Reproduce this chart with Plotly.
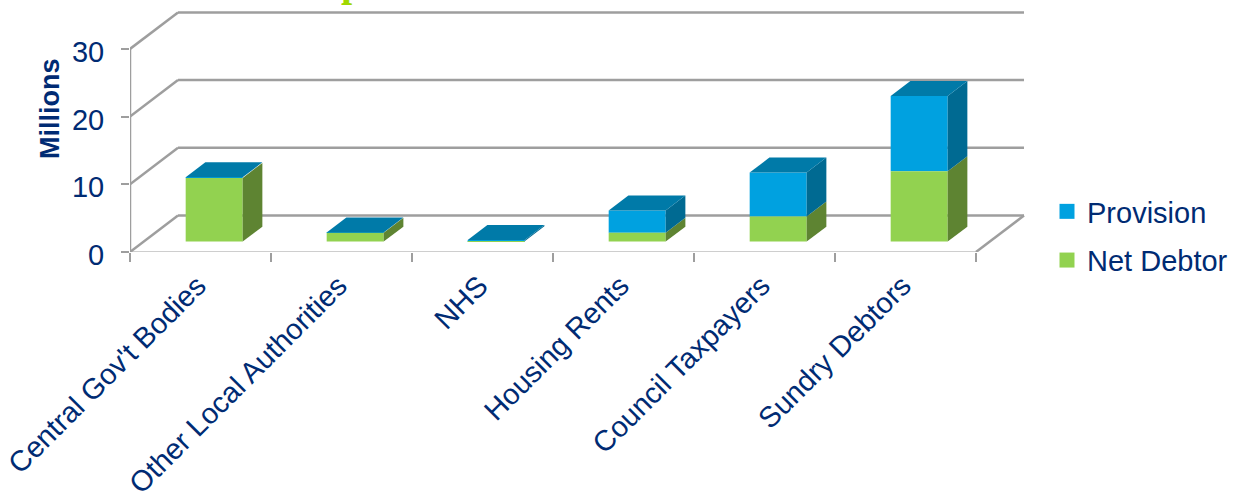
import plotly.graph_objects as go

categories = ["Central Gov't Bodies", "Other Local Authorities", "NHS",
              "Housing Rents", "Council Taxpayers", "Sundry Debtors"]
net_debtor = [9.4, 1.3, 0.05, 1.3, 3.7, 10.4]
provision = [0.1, 0.05, 0.2, 3.3, 6.5, 11.1]
y_ticks = [0, 10, 20, 30]

W, H = 1235, 492
LEFT, RIGHT_EDGE, TOP, ZERO = 130, 1030, 4, 252
UNIT_X = 141.0          # pixels per category
UNIT_Y = 6.77           # pixels per million
DX = 48 / UNIT_X        # oblique depth vector, in data units
DY = 36.5 / UNIT_Y
BAR_W = 57 / UNIT_X
D_FRONT, D_BACK = 0.285, 0.695

GREEN, GREEN_SIDE = "#92D250", "#5E8432"
BLUE, BLUE_SIDE, BLUE_TOP = "#00A1E0", "#006A92", "#007AA8"
GRID = "#9E9E9E"
NAVY = "#002B73"


def proj(x, v, d):
    """Oblique projection of (category position, value, depth) onto the axes."""
    return x + d * DX, v + d * DY


def face(corners, color):
    pts = [proj(*c) for c in corners]
    pts.append(pts[0])
    return go.Scatter(x=[p[0] for p in pts], y=[p[1] for p in pts], mode="lines",
                      fill="toself", fillcolor=color, line=dict(width=0),
                      hoverinfo="skip", showlegend=False, cliponaxis=False)


def wall_line(a, b):
    (x0, y0), (x1, y1) = proj(*a), proj(*b)
    return dict(type="line", xref="x", yref="y", x0=x0, y0=y0, x1=x1, y1=y1,
                layer="below", line=dict(color=GRID, width=2.5))


x_first, x_last = -0.5, len(categories) - 0.5
shapes = []
for t in y_ticks:
    shapes.append(wall_line((x_first, t, 1), (x_last, t, 1)))
    shapes.append(wall_line((x_first, t, 0), (x_first, t, 1)))
shapes.append(wall_line((x_last, 0, 0), (x_last, 0, 1)))

fig = go.Figure()

# Front faces of the stacked columns
base_y = D_FRONT * DY
centres = [i + D_FRONT * DX for i in range(len(categories))]
fig.add_bar(x=centres, y=provision, base=[n + base_y for n in net_debtor],
            width=BAR_W, marker=dict(color=BLUE, line=dict(width=0)),
            name="Provision", legendgroup="p", showlegend=False)
fig.add_bar(x=centres, y=net_debtor, base=base_y,
            width=BAR_W, marker=dict(color=GREEN, line=dict(width=0)),
            name="Net Debtor", legendgroup="n", showlegend=False)

# Side and top faces
for i, (n, p) in enumerate(zip(net_debtor, provision)):
    xr = i + BAR_W / 2
    xl = i - BAR_W / 2
    fig.add_trace(face([(xr, 0, D_FRONT), (xr, 0, D_BACK), (xr, n, D_BACK), (xr, n, D_FRONT)], GREEN_SIDE))
    fig.add_trace(face([(xr, n, D_FRONT), (xr, n, D_BACK), (xr, n + p, D_BACK), (xr, n + p, D_FRONT)], BLUE_SIDE))
    t = n + p
    fig.add_trace(face([(xl, t, D_FRONT), (xr, t, D_FRONT), (xr, t, D_BACK), (xl, t, D_BACK)], BLUE_TOP))

# Front edges of the chart box
fig.add_trace(go.Scatter(x=[x_first, x_first], y=[y_ticks[0], y_ticks[-1]], mode="lines",
                         line=dict(color=GRID, width=2.5), cliponaxis=False,
                         hoverinfo="skip", showlegend=False))
fig.add_trace(go.Scatter(x=[x_first, x_last], y=[-0.15, -0.15], mode="lines",
                         line=dict(color=GRID, width=3), cliponaxis=False,
                         hoverinfo="skip", showlegend=False))

# Legend entries with larger square keys
for name, color, group in (("Provision", BLUE, "p"), ("Net Debtor", GREEN, "n")):
    fig.add_trace(go.Scatter(x=[None], y=[None], mode="markers", name=name, legendgroup=group,
                             marker=dict(symbol="square", size=15, color=color)))

PLOT_W = W - LEFT
PLOT_H = ZERO - TOP
fig.update_layout(
    width=W, height=H, autosize=False,
    margin=dict(l=LEFT, r=0, t=TOP, b=H - ZERO, pad=0),
    paper_bgcolor="white", plot_bgcolor="white",
    barmode="overlay", shapes=shapes,
    font=dict(family="Liberation Sans, Arial, sans-serif", color=NAVY, size=29),
    xaxis=dict(domain=[0, (RIGHT_EDGE - LEFT) / PLOT_W],
               range=[x_first, x_first + (RIGHT_EDGE - LEFT) / UNIT_X],
               tickvals=list(range(len(categories))), ticktext=categories,
               tickangle=-45, ticks="", showgrid=False, zeroline=False, showline=False,
               automargin=False, ticklabelstandoff=10, ticklabelshift=-3,
               ticklabeloverflow="allow",
               tickfont=dict(size=29, color=NAVY),
               minor=dict(tickmode="array",
                          tickvals=[i - 0.5 for i in range(len(categories) + 1)],
                          ticks="outside", ticklen=9, tickwidth=2, tickcolor=GRID,
                          showgrid=False)),
    yaxis=dict(range=[0, (ZERO - TOP) / UNIT_Y], tickvals=y_ticks, ticks="outside",
               ticklen=8, tickwidth=2, tickcolor=GRID, showgrid=False, zeroline=False,
               showline=False, automargin=False, ticklabelstandoff=11, ticklabelshift=3,
               tickfont=dict(size=29, color=NAVY)),
    legend=dict(x=(1047 - LEFT) / PLOT_W, xanchor="left",
                y=(ZERO - 186) / PLOT_H, yanchor="top",
                entrywidth=130, entrywidthmode="pixels",
                tracegroupgap=8, bgcolor="rgba(0,0,0,0)",
                font=dict(size=29, color=NAVY)),
    annotations=[
        dict(text="<b>Millions</b>", textangle=-90, xref="paper", yref="paper",
             x=(50 - LEFT) / PLOT_W, y=(ZERO - 108) / PLOT_H,
             xanchor="center", yanchor="middle", showarrow=False,
             font=dict(size=27, color=NAVY)),
        # Descender of the heading that runs off the top of the page
        dict(text="<b>p</b>", xref="paper", yref="paper",
             x=(352 - LEFT) / PLOT_W, y=(ZERO + 3.5) / PLOT_H,
             xanchor="center", yanchor="bottom", yshift=-11, showarrow=False,
             font=dict(family="Liberation Serif, serif", size=40, color="#A0D800")),
    ],
)

fig.write_html("out.html")
